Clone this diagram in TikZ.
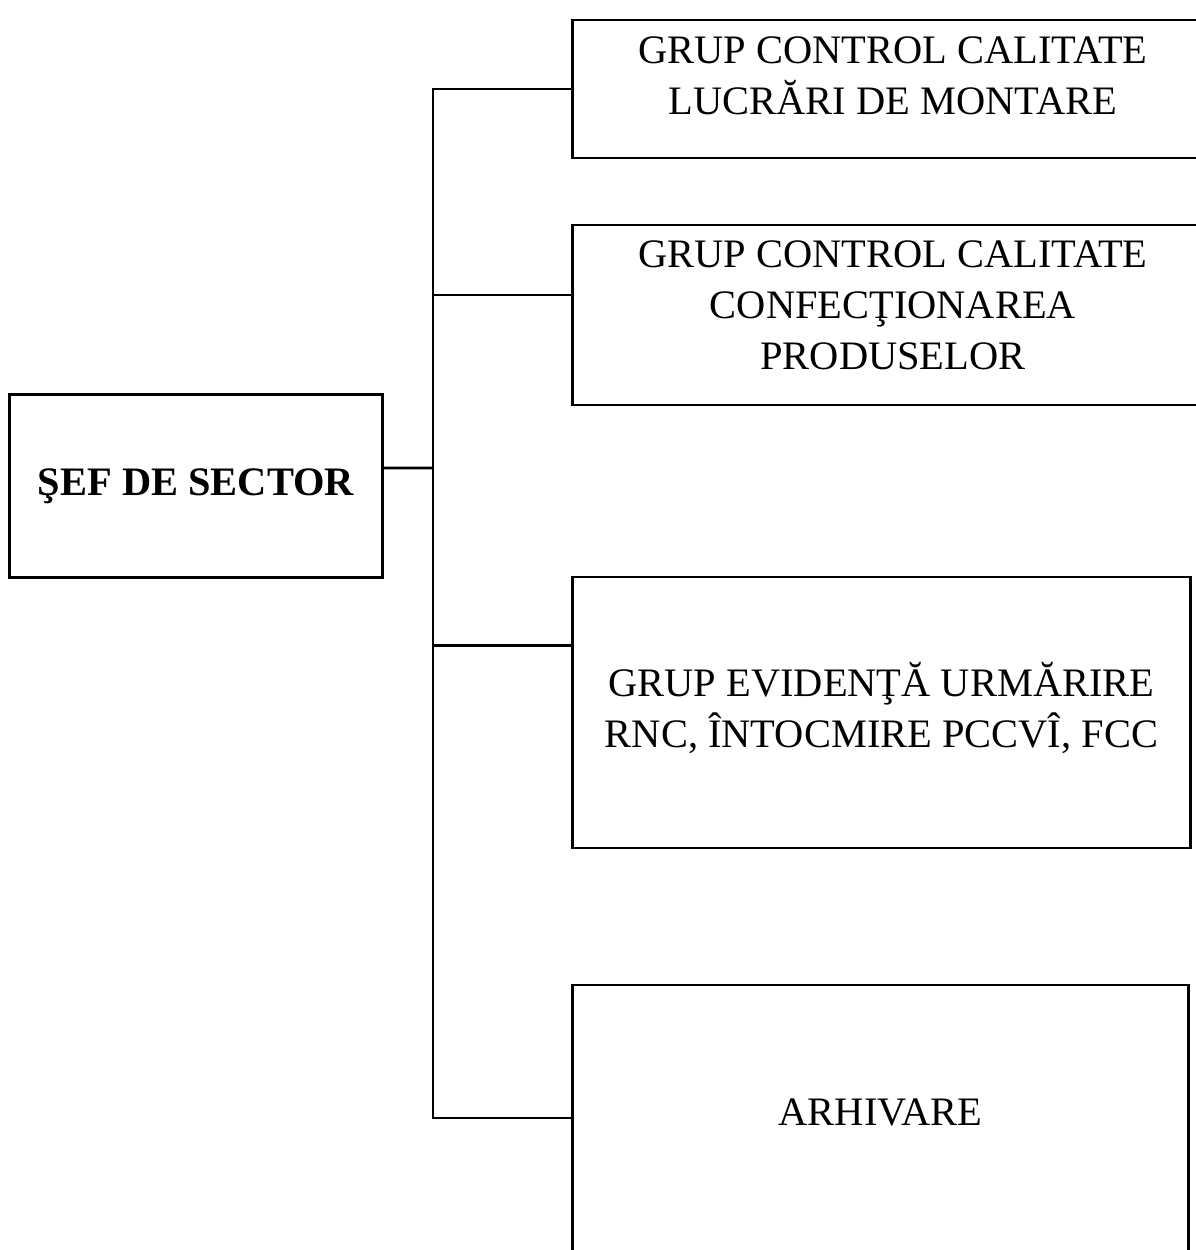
\documentclass[tikz,border=0pt]{standalone}
\usepackage{fontspec}
\setmainfont{Liberation Serif}
\usetikzlibrary{positioning}

\begin{document}
\begin{tikzpicture}[
  x=0.01cm, y=-0.01cm,
  font=\fontsize{11.5}{14.5}\selectfont,
  box/.style 2 args={draw, line width=0.8pt, align=center, inner sep=0pt,
    minimum width=#1, minimum height=#2},
  link/.style={line width=0.8pt},
]
\useasboundingbox (0,0) rectangle (1196,1250);

% Head of the sector.
\node[box={3.72cm}{1.83cm}, font=\fontsize{11.5}{14.5}\selectfont\bfseries] (sef)
  at (196,486) {ŞEF DE SECTOR};

% Quality control groups.
\node[box={6.40cm}{1.38cm}, text depth=0.27cm] (grupmont) at (893,89)
  {GRUP CONTROL CALITATE\\ LUCRĂRI DE MONTARE};
\node[box={6.40cm}{1.80cm}, text depth=0.19cm] (grupprod) at (893,315)
  {GRUP CONTROL CALITATE\\ CONFECŢIONAREA\\ PRODUSELOR};

% Records and archive.
\node[box={6.17cm}{2.71cm}, text depth=0.15cm] (grupev) at (881.5,712.5)
  {GRUP EVIDENŢĂ URMĂRIRE\\ RNC, ÎNTOCMIRE PCCVÎ, FCC};
\node[box={6.15cm}{2.80cm}, text depth=0.26cm] (arhiv) at (880.5,1125)
  {ARHIVARE};

\coordinate (bus) at (433,468);
\draw[link] ([yshift=1.8mm]sef.east) -- (bus);
\draw[link] (grupmont.west) -| (bus);
\draw[link] (bus) |- ([yshift=2mm]grupprod.west);
\draw[link] (bus) |- ([yshift=6.7mm]grupev.west);
\draw[link] (bus) |- ([yshift=0.7mm]arhiv.west);

\end{tikzpicture}
\end{document}
